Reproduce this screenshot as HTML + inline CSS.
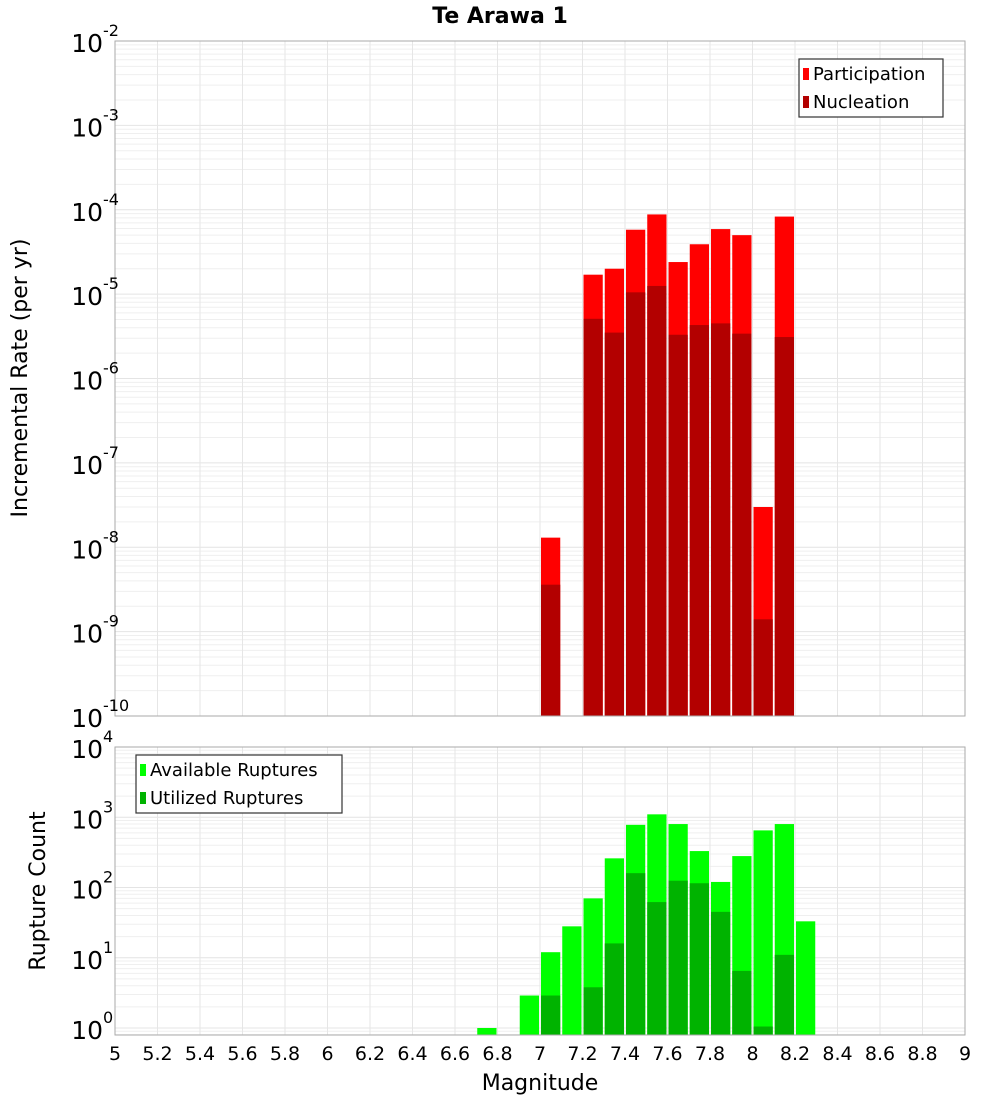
<!DOCTYPE html>
<html><head><meta charset="utf-8"><style>
body{margin:0;background:#fff;}
svg text{font-family:"DejaVu Sans","Liberation Sans",sans-serif;}
</style></head><body>
<svg id="c" width="1000" height="1100" xmlns="http://www.w3.org/2000/svg"></svg>
<script>
const bins=[6.75,6.95,7.05,7.15,7.25,7.35,7.45,7.55,7.65,7.75,7.85,7.95,8.05,8.15,8.25];
const participation=[0,0,1.3e-8,0,1.7e-5,2e-5,5.8e-5,8.8e-5,2.4e-5,3.9e-5,5.9e-5,5e-5,3e-8,8.3e-5,0];
const nucleation=[0,0,3.6e-9,0,5.1e-6,3.5e-6,1.05e-5,1.25e-5,3.3e-6,4.3e-6,4.5e-6,3.4e-6,1.4e-9,3.1e-6,0];
const available=[1,2.9,12,28,70,260,780,1100,800,330,120,280,650,800,33];
const utilized=[0,0,2.9,0,3.8,16,160,62,125,115,45,6.5,1.05,11,0];
const xTicks=[5,5.2,5.4,5.6,5.8,6,6.2,6.4,6.6,6.8,7,7.2,7.4,7.6,7.8,8,8.2,8.4,8.6,8.8,9];
const topExp=[-10,-9,-8,-7,-6,-5,-4,-3,-2];
const botExp=[0,1,2,3,4];

const svg=document.getElementById('c');const NS='http://www.w3.org/2000/svg';
function el(t,a,p){const e=document.createElementNS(NS,t);for(const k in a)e.setAttribute(k,a[k]);(p||svg).appendChild(e);return e;}
const X0=115,X1=965;
const xs=m=>X0+(m-5)/4*(X1-X0);
const yTop=v=>716-(Math.log10(v)+10)*(675/8);
const yBot=v=>1028-Math.log10(v)*70.25;

function frame(y0,y1,exps,yf,name){
  const g=el('g',{});
  for(let i=0;i<exps.length;i++){const e=exps[i];
    for(let k=1;k<10;k++){const v=k*Math.pow(10,e);const y=yf(v);if(y<y0-0.5||y>y1+0.5)continue;
      el('line',{x1:X0,x2:X1,y1:y,y2:y,stroke:k==1?'#e4e4e4':'#efefef','stroke-width':1},g);}}
  if(name==='bottom'){for(let k=9;k>0;k--){const y=yf(k/10);if(y<=y1)el('line',{x1:X0,x2:X1,y1:y,y2:y,stroke:'#efefef'},g);}}
  xTicks.forEach(t=>{const x=xs(t);el('line',{x1:x,x2:x,y1:y0,y2:y1,stroke:'#e6e6e6'},g);});
}
function axisLabels(exps,yf,name){
  exps.forEach(e=>{const y=yf(Math.pow(10,e));
    const t=el('text',{x:103,y:y+11,'text-anchor':'end','font-size':25,fill:'#000'});
    
    t.textContent='10';
    const s=el('text',{x:103,y:y-5,'font-size':16,fill:'#000'});s.textContent=e;
  });
}
// top panel
frame(41,716,topExp,yTop,'top');
bins.forEach((m,i)=>{
  const x=xs(m-0.05)+1,w=xs(m+0.05)-xs(m-0.05)-2;
  if(participation[i]>0){const r=el('rect',{x:x,y:yTop(participation[i]),width:w,height:716-yTop(participation[i]),fill:'#ff0000'});
    }
  if(nucleation[i]>0){const r=el('rect',{x:x,y:yTop(nucleation[i]),width:w,height:716-yTop(nucleation[i]),fill:'#b30000'});
    }
});
el('rect',{x:X0,y:41,width:X1-X0,height:675,fill:'none',stroke:'#aaa'});
axisLabels(topExp,yTop,'top');
// bottom panel
frame(747,1035,botExp,yBot,'bottom');
bins.forEach((m,i)=>{
  const x=xs(m-0.05)+1,w=xs(m+0.05)-xs(m-0.05)-2;
  if(available[i]>0){const r=el('rect',{x:x,y:yBot(available[i]),width:w,height:1035-yBot(available[i]),fill:'#00ff00'});
    }
  if(utilized[i]>0){const r=el('rect',{x:x,y:yBot(utilized[i]),width:w,height:1035-yBot(utilized[i]),fill:'#00b300'});
    }
});
el('rect',{x:X0,y:747,width:X1-X0,height:288,fill:'none',stroke:'#aaa'});
axisLabels(botExp,yBot,'bottom');
xTicks.forEach(t=>{const tx=el('text',{x:xs(t),y:1060,'text-anchor':'middle','font-size':19,fill:'#000'});
  tx.textContent=String(t);});
// titles
let t=el('text',{x:500,y:23,'text-anchor':'middle','font-size':22,'font-weight':'bold'});t.textContent='Te Arawa 1';

t=el('text',{x:540,y:1090,'text-anchor':'middle','font-size':22});t.textContent='Magnitude';

t=el('text',{x:0,y:0,'text-anchor':'middle','font-size':22,transform:'translate(27,378) rotate(-90)'});t.textContent='Incremental Rate (per yr)';

t=el('text',{x:0,y:0,'text-anchor':'middle','font-size':22,transform:'translate(45,891) rotate(-90)'});t.textContent='Rupture Count';

// legends
function legend(x,y,w,items,name){
  const g=el('g',{});
  el('rect',{x:x,y:y,width:w,height:58,fill:'#fff',stroke:'#333','stroke-width':1.2},g);
  items.forEach((it,i)=>{el('rect',{x:x+4,y:y+9+i*28,width:6,height:12,fill:it[1]},g);
    const tt=el('text',{x:x+14,y:y+21+i*28,'font-size':18},g);tt.textContent=it[0];
    });
}
legend(799,59,144,[['Participation','#ff0000'],['Nucleation','#b30000']],'top-legend');
legend(136,755,206,[['Available Ruptures','#00ff00'],['Utilized Ruptures','#00b300']],'bottom-legend');
</script>
</body></html>
